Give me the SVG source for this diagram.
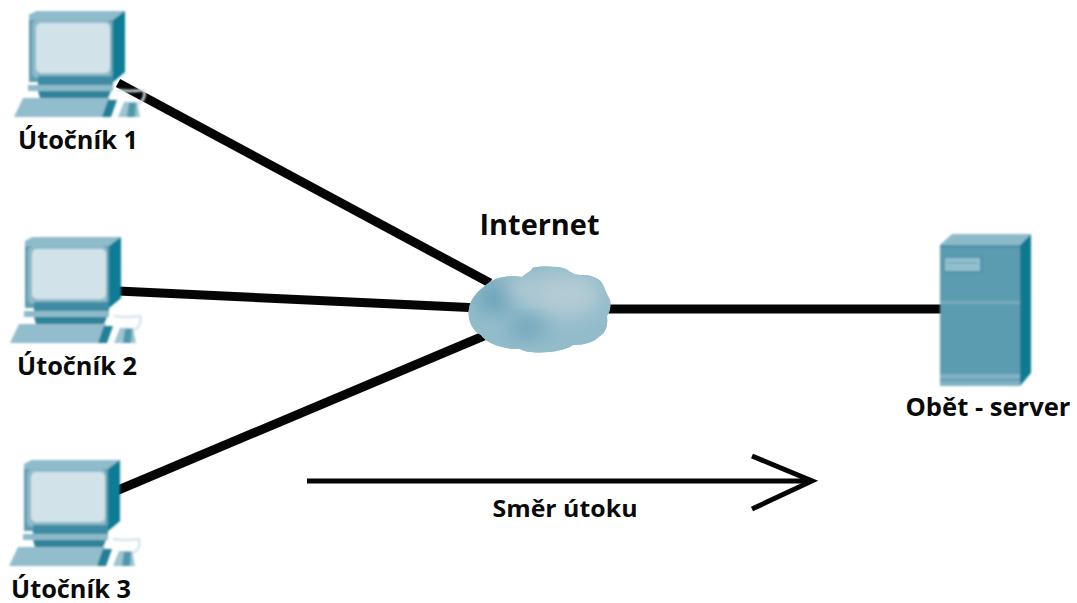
<svg xmlns="http://www.w3.org/2000/svg" width="1077" height="603" viewBox="0 0 1077 603">
<style>
.lbl{font-family:"Open Sans","Liberation Sans",sans-serif;font-weight:700;fill:#0a0a0a}
.link{stroke:#050505;stroke-width:9;fill:none}
</style>
<defs>
<filter id="soft" x="-5%" y="-5%" width="110%" height="110%"><feGaussianBlur stdDeviation="0.8"/></filter>
<filter id="blob" x="-30%" y="-30%" width="160%" height="160%"><feGaussianBlur stdDeviation="9"/></filter>
<clipPath id="cloudclip"><path id="cloudshape" d="M490 282C498 277 512 275 522 277C528 272 533 270 532 268C542 266 556 266 566 269C570 272 575 275 580 275C592 275 601 278 604 287C606 293 608 296 610 300C611 306 610 312 607 316C608 325 606 332 600 336C594 342 585 345 573 345C562 353 530 355 520 349C505 349 488 345 481 335C472 331 467 318 469 309C470 298 480 289 490 282Z"/></clipPath>
<g id="pc" filter="url(#soft)">
<path d="M118 90C128 92 136 91 144 90C146 97 142 103 136 105" fill="none" stroke="#d8e6eb" stroke-width="2.500"/>
<path d="M29 15L37 11H125V72L113 82H29Z" fill="#5f9db1"/>
<path d="M29 15L37 11H125L113 20H29Z" fill="#8fbccb"/>
<path d="M113 20L125 11V72L113 82Z" fill="#0e7c94"/>
<rect x="32" y="20" width="79" height="58" rx="5" fill="#8cb9c8"/>
<rect x="36" y="23" width="74" height="50" rx="5" fill="#d2e2e9"/>
<path d="M38 76H113V85H38Z" fill="#3d8ca3"/>
<rect x="28" y="85" width="85" height="6" fill="#8dbac9"/>
<path d="M38 91H111L108 98H40Z" fill="#2f8299"/>
<path d="M23 98H110L106 117H14Z" fill="#92bdcc"/>
<path d="M108 100H117L111 117H102Z" fill="#217f97"/>
<path d="M124 102H137L140 117H118Z" fill="#9cc4d1"/>
<path d="M129 103H136L135 117H127Z" fill="#4f97ac"/>
</g>
</defs>
<g id="connectors">
<path class="link" d="M118 83L490 283"/>
<path class="link" d="M118 291L480 308"/>
<path class="link" d="M116 491L486 335"/>
<path class="link" d="M606 309H942"/>
</g>
<g id="attacker1"><use href="#pc"/><text class="lbl" x="78" y="149" font-size="25" text-anchor="middle" textLength="120" lengthAdjust="spacingAndGlyphs">Útočník 1</text></g>
<g id="attacker2"><use href="#pc" x="-4" y="226"/><text class="lbl" x="77" y="375" font-size="25" text-anchor="middle" textLength="120" lengthAdjust="spacingAndGlyphs">Útočník 2</text></g>
<g id="attacker3"><use href="#pc" x="-5" y="449"/><text class="lbl" x="71" y="598" font-size="25" text-anchor="middle" textLength="120" lengthAdjust="spacingAndGlyphs">Útočník 3</text></g>
<g id="internet">
<use href="#cloudshape" fill="#8db8c8"/>
<g clip-path="url(#cloudclip)">
<rect x="460" y="260" width="160" height="100" fill="#93bccb"/>
<ellipse cx="565" cy="295" rx="36" ry="22" fill="#b3cbd4" filter="url(#blob)"/>
<ellipse cx="495" cy="298" rx="20" ry="16" fill="#6fa6bb" filter="url(#blob)"/>
<ellipse cx="527" cy="328" rx="20" ry="12" fill="#74a9bd" filter="url(#blob)"/>
<ellipse cx="525" cy="290" rx="18" ry="12" fill="#afc9d3" filter="url(#blob)"/>
</g>
<text class="lbl" x="539.500" y="235" font-size="29" text-anchor="middle" textLength="120" lengthAdjust="spacingAndGlyphs">Internet</text>
</g>
<g id="victim">
<g filter="url(#soft)">
<path d="M940 245L952 234H1031L1020 245Z" fill="#8dbac9"/>
<path d="M1020 245L1031 234V373L1020 386Z" fill="#0c7a92"/>
<rect x="940" y="245" width="80" height="141" fill="#5b9cb0"/>
<rect x="940" y="245" width="80" height="3" fill="#4f93a8"/>
<rect x="944" y="256" width="39" height="18" fill="#4f95aa"/>
<rect x="945" y="258" width="35" height="13" fill="#93bfcd"/>
<rect x="947" y="262" width="31" height="2" fill="#7fb0c1"/>
<rect x="940" y="301" width="80" height="3" fill="#74abbc"/>
<rect x="940" y="374" width="80" height="12" fill="#7fb2c2"/>
<rect x="940" y="379" width="80" height="2" fill="#5b9cb0"/>
</g>
<text class="lbl" x="988" y="416" font-size="25" text-anchor="middle" textLength="165" lengthAdjust="spacingAndGlyphs">Obět - server</text>
</g>
<g id="direction">
<path d="M307 481H810" stroke="#050505" stroke-width="5" fill="none"/>
<path d="M752 456L812 481L752 509" stroke="#050505" stroke-width="5" fill="none"/>
<text class="lbl" x="565" y="517" font-size="24" text-anchor="middle" textLength="145" lengthAdjust="spacingAndGlyphs">Směr útoku</text>
</g>
</svg>
